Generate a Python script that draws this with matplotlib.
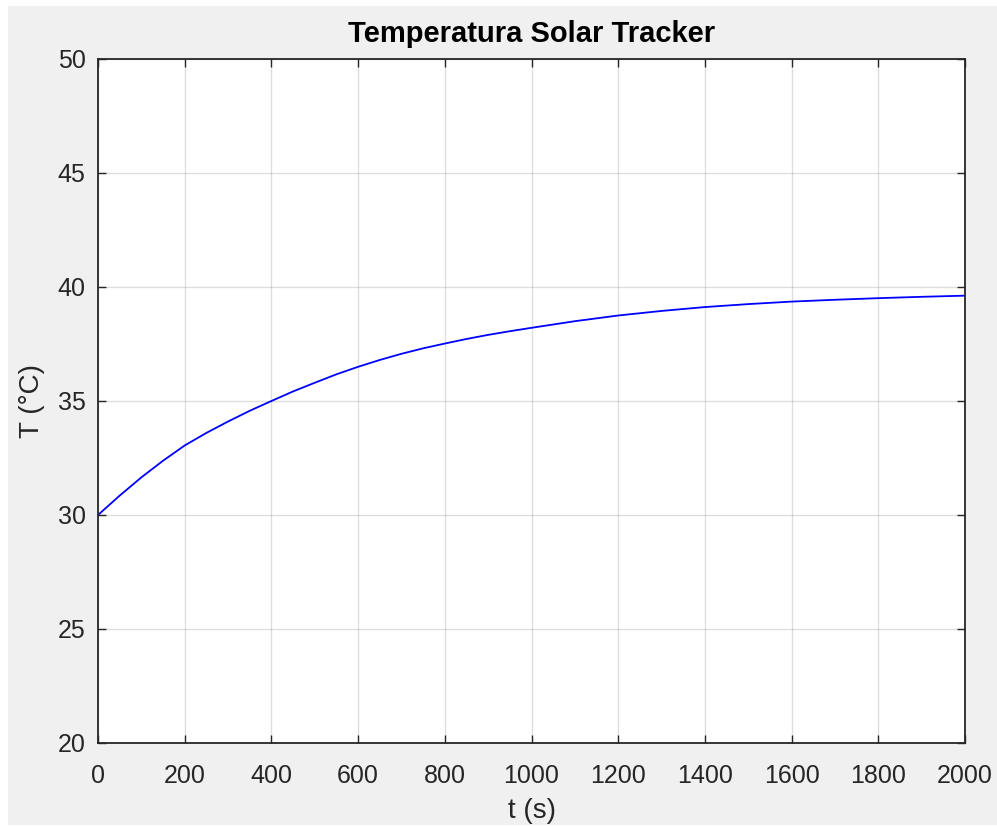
import matplotlib
matplotlib.use('Agg')
import matplotlib.pyplot as plt
from matplotlib.patches import Rectangle

# readings
t = [0, 50, 100, 150, 200, 250, 300, 350, 400, 450, 500, 550, 600, 650, 700,
     750, 800, 850, 900, 950, 1000, 1100, 1200, 1300, 1400, 1500, 1600, 1700,
     1800, 1900, 2000]
temp = [30.0, 30.85, 31.65, 32.38, 33.05, 33.6, 34.1, 34.57, 35.0, 35.42, 35.8,
        36.17, 36.5, 36.8, 37.07, 37.31, 37.52, 37.72, 37.9, 38.06, 38.21,
        38.5, 38.75, 38.95, 39.12, 39.25, 39.36, 39.44, 39.51, 39.57, 39.62]

xticks = list(range(0, 2001, 200))
yticks = list(range(20, 51, 5))

plt.rcParams['font.family'] = ['Liberation Sans', 'DejaVu Sans']
dark = '#262626'

fig = plt.figure(figsize=(9.97, 8.26), dpi=100, facecolor='white')
# gray figure background with thin white border at top/left
fig.patches.append(Rectangle((8/997, 1/826), 1, 1 - 7/826, transform=fig.transFigure,
                             facecolor='#f0f0f0', edgecolor='none', zorder=-10))

ax = fig.add_axes([98/997, 1 - 743/826, (965 - 98)/997, (743 - 59)/826])
ax.set_facecolor('white')
ax.plot(t, temp, color='#0000ff', lw=1.3)

ax.set_xlim(0, 2000)
ax.set_ylim(20, 50)
ax.set_xticks(xticks)
ax.set_yticks(yticks)
ax.grid(True, color=dark, alpha=0.15, lw=1)
ax.tick_params(direction='in', top=True, right=True, length=6, width=1,
               colors=dark, labelsize=18)
ax.tick_params(axis='x', pad=15)
ax.tick_params(axis='y', pad=9)
for s in ax.spines.values():
    s.set_color(dark)
    s.set_linewidth(1.3)

ax.set_title('Temperatura Solar Tracker', fontsize=21, fontweight='bold',
             color='black', pad=12)
ax.set_xlabel('t (s)', fontsize=20, color=dark, labelpad=7)
ax.set_ylabel('T (°C)', fontsize=20, color=dark, labelpad=9)

fig.savefig('out.png', dpi=100)
